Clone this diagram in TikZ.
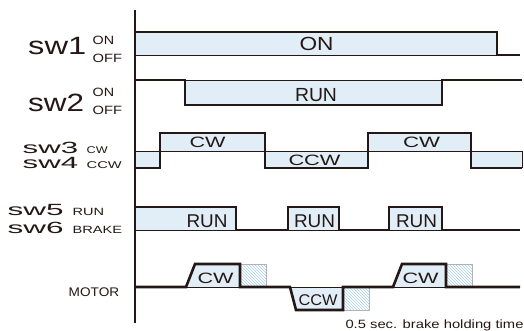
\documentclass[tikz,border=0pt]{standalone}
\usepackage{graphicx}
\usepackage{fontspec}
\setmainfont{Liberation Sans}
\usetikzlibrary{patterns}
\definecolor{bandfill}{HTML}{E1EEF7}
\definecolor{ink}{HTML}{231815}
\definecolor{hatchc}{HTML}{A9CFE8}
\newcommand\fw[3]{\resizebox{#1pt}{\height}{\fontsize{#2}{#2}\selectfont #3}}
\begin{document}
\begin{tikzpicture}[x=1pt,y=-1pt,
  wave/.style={draw=ink, line width=2.6pt, line join=miter},
  thinln/.style={draw=ink, line width=0.7pt},
  hatchbox/.style={pattern=north west lines, pattern color=hatchc, draw=gray!60, line width=0.6pt},
  txt/.style={inner sep=0pt, anchor=base, text=ink},
  ltxt/.style={inner sep=0pt, anchor=base west, text=ink}]
\useasboundingbox (0,0) rectangle (524,331);

% ---- sw1
\fill[bandfill] (135,32) rectangle (497,55);
\draw[thinln] (135,55) -- (497,55);
\draw[wave] (135,32) -- (497,32) -- (497,55) -- (520,55);

% ---- sw2
\fill[bandfill] (185,80) rectangle (442,105);
\draw[thinln] (185,80) -- (442,80);
\draw[wave] (135,80) -- (185,80) -- (185,105) -- (442,105) -- (442,80) -- (522,80);

% ---- sw3 / sw4
\fill[bandfill] (135,151) rectangle (160,168);
\fill[bandfill] (160,133) rectangle (265,151);
\fill[bandfill] (265,151) rectangle (368,168);
\fill[bandfill] (368,133) rectangle (471,151);
\fill[bandfill] (471,151) rectangle (522,168);
\draw[thinln] (135,151) -- (522,151) -- (522,168);
\draw[wave] (135,168) -- (160,168) -- (160,133) -- (265,133) -- (265,168) -- (368,168) -- (368,133) -- (471,133) -- (471,168) -- (522,168);

% ---- sw5 / sw6
\fill[bandfill] (135,207) rectangle (236,230);
\fill[bandfill] (288,207) rectangle (339,230);
\fill[bandfill] (389,207) rectangle (442,230);
\draw[thinln] (135,230) -- (236,230) (288,230) -- (339,230) (389,230) -- (442,230);
\draw[wave] (135,207) -- (236,207) -- (236,230) -- (288,230) -- (288,207) -- (339,207) -- (339,230) -- (389,230) -- (389,207) -- (442,207) -- (442,230) -- (520,230);

% ---- motor
\fill[bandfill] (186,287) -- (195,264) -- (240,264) -- (240,287) -- cycle;
\fill[bandfill] (290,287) -- (296,310) -- (343,310) -- (343,287) -- cycle;
\fill[bandfill] (393,287) -- (402,264) -- (446,264) -- (446,287) -- cycle;
\draw[thinln] (186,287) -- (240,287) (290,287) -- (343,287) (393,287) -- (446,287);
\draw[hatchbox] (240,264) rectangle (266,287);
\draw[hatchbox] (343,287) rectangle (369,310);
\draw[hatchbox] (446,264) rectangle (472,287);
\draw[wave] (135,287) -- (186,287) -- (195,264) -- (240,264) -- (240,287) -- (290,287) -- (296,310) -- (343,310) -- (343,287) -- (393,287) -- (402,264) -- (446,264) -- (446,287) -- (520,287);

% ---- axis
\draw[ink, line width=2pt] (135,10) -- (135,323);

% ---- left labels
\node[ltxt] (s1) at (28,55) {\fw{58}{25}{sw1}};
\node[ltxt] (s1on) at (92.5,44.5) {\fw{21.5}{12}{ON}};
\node[ltxt] (s1off) at (92.5,62.5) {\fw{29.5}{12}{OFF}};
\node[ltxt] (s2) at (28,112) {\fw{56}{25}{sw2}};
\node[ltxt] (s2on) at (92.5,97) {\fw{21.5}{12}{ON}};
\node[ltxt] (s2off) at (92.5,115) {\fw{29.5}{12}{OFF}};
\node[ltxt] (s3) at (22.5,153.3) {\fw{55.5}{16.2}{sw3}};
\node[ltxt] (s3cw) at (86.5,153.3) {\fw{21}{9.8}{CW}};
\node[ltxt] (s4) at (22.5,168) {\fw{55.5}{16.2}{sw4}};
\node[ltxt] (s4ccw) at (86.5,168) {\fw{35}{9.8}{CCW}};
\node[ltxt] (s5) at (7.5,215) {\fw{56}{16.2}{sw5}};
\node[ltxt] (s5run) at (72.5,215) {\fw{31.5}{10.5}{RUN}};
\node[ltxt] (s6) at (7.5,233) {\fw{56}{16.2}{sw6}};
\node[ltxt] (s6brake) at (72.5,233) {\fw{49.5}{10.5}{BRAKE}};
\node[ltxt] (mot) at (68.5,296) {\fw{50.5}{12.5}{MOTOR}};

% ---- inner labels
\node[txt] (on1) at (316.5,51) {\fw{34}{19}{ON}};
\node[txt] (run1) at (316,102) {\fw{42}{19}{RUN}};
\node[txt] (cw1) at (207.5,148) {\fw{36}{15}{CW}};
\node[txt] (ccw1) at (314.5,165) {\fw{52}{15}{CCW}};
\node[txt] (cw2) at (421.5,148) {\fw{37}{15}{CW}};
\node[txt] (run2) at (207,227) {\fw{41}{18.5}{RUN}};
\node[txt] (run3) at (314.5,227) {\fw{41}{18.5}{RUN}};
\node[txt] (run4) at (416.5,227) {\fw{41}{18.5}{RUN}};
\node[txt] (mcw1) at (215.5,283) {\fw{36}{15}{CW}};
\node[txt] (mccw) at (318,305) {\fw{39}{15.5}{CCW}};
\node[txt] (mcw2) at (420.5,283) {\fw{36}{15}{CW}};
\node[txt] (note) at (434.5,328) {\fw{178}{12}{0.5 sec. brake holding time}};
\end{tikzpicture}
\end{document}
